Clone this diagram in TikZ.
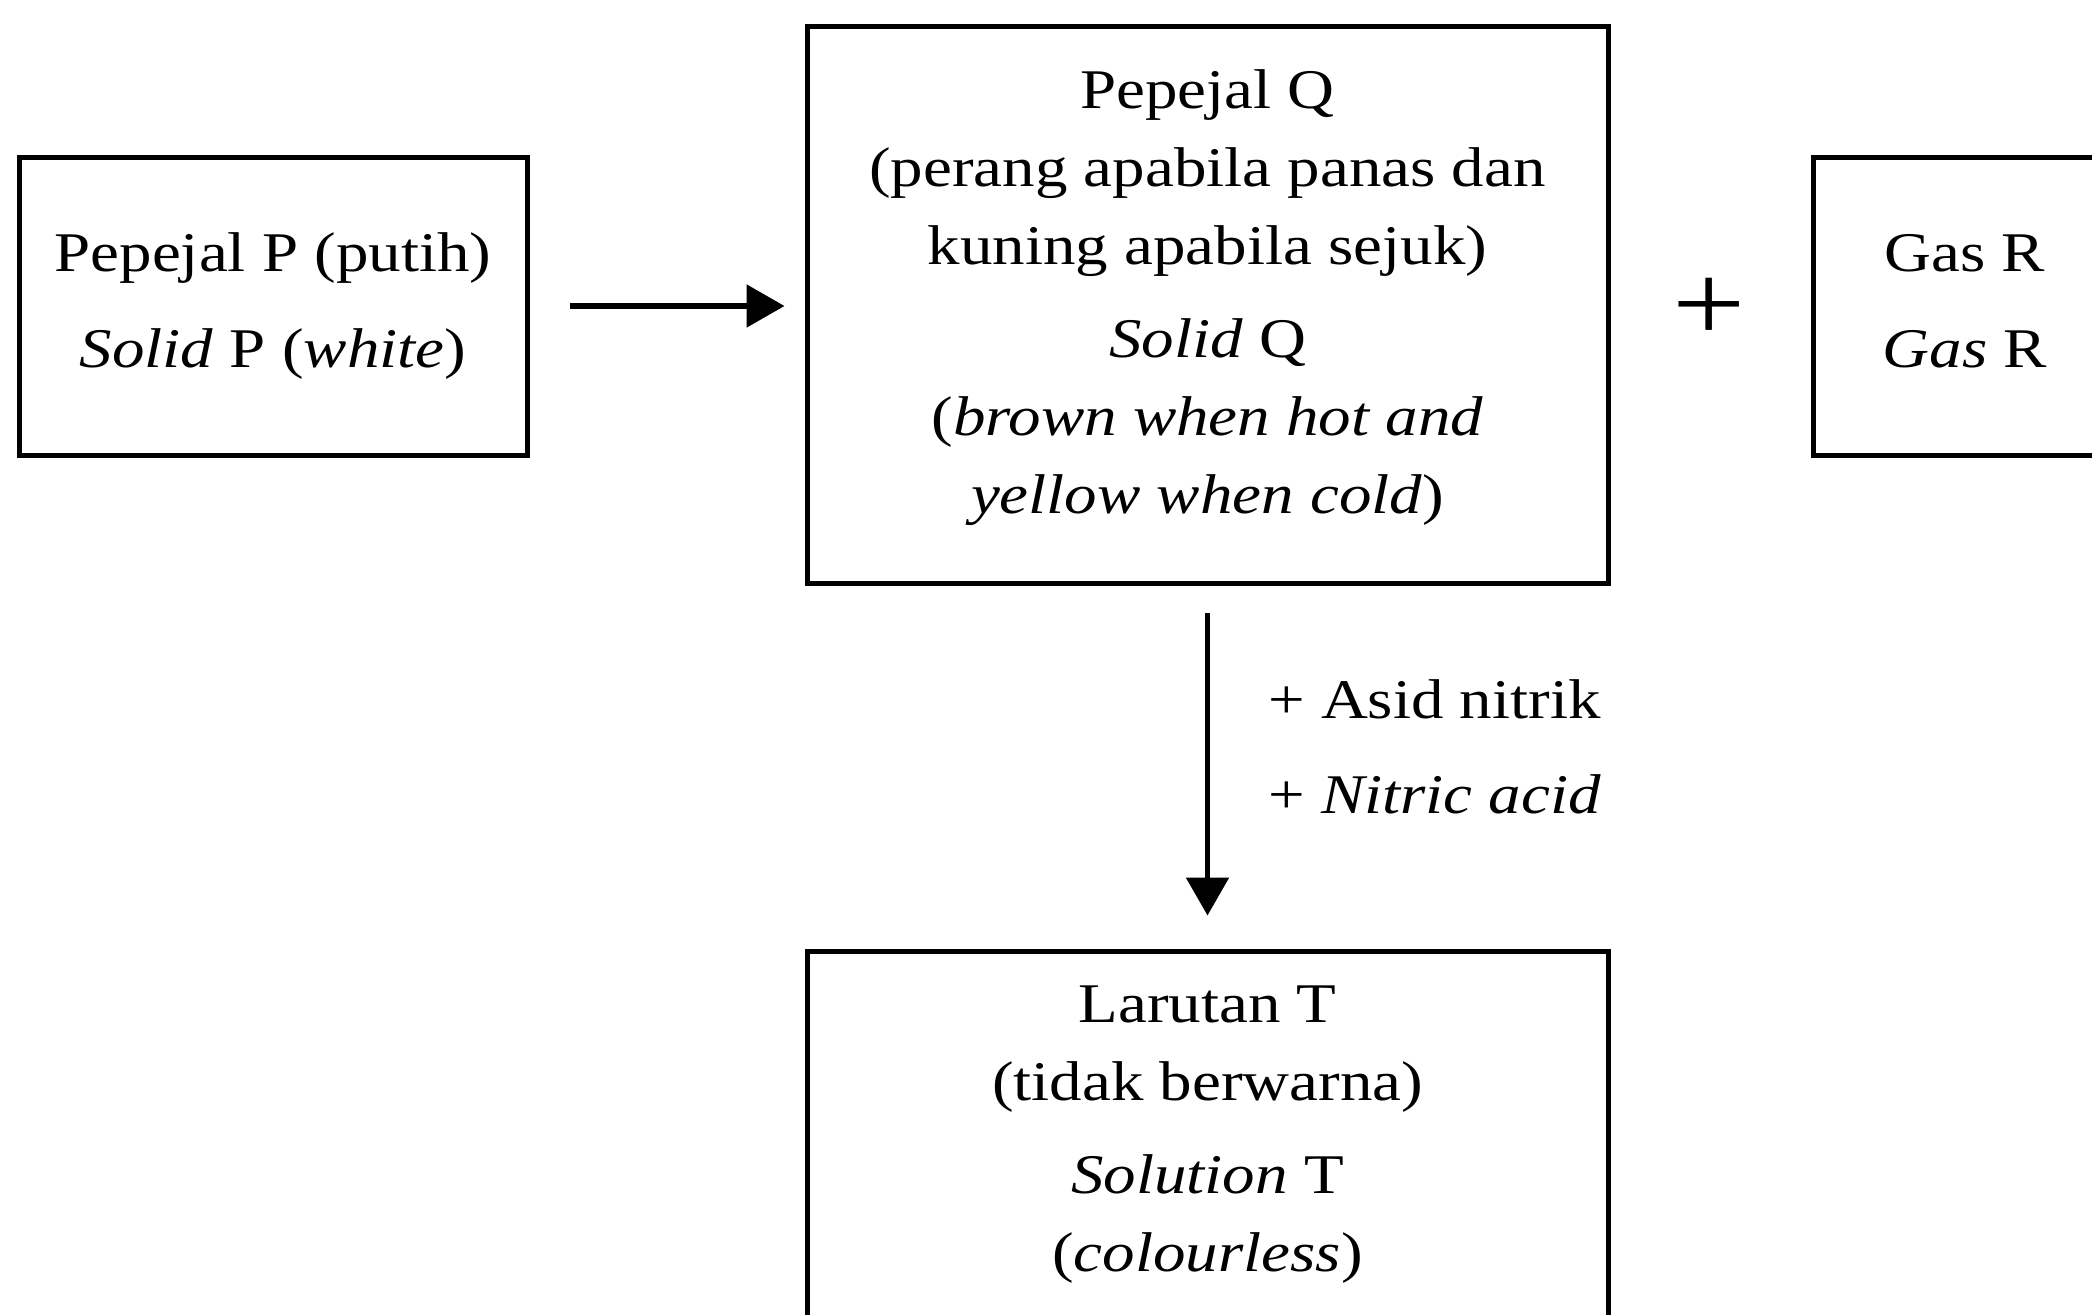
\documentclass[tikz,border=0pt]{standalone}
\usepackage{fontspec}
\setmainfont{Liberation Serif}[FakeStretch=1.16]
\usetikzlibrary{arrows.meta}
\begin{document}
\begin{tikzpicture}[x=1pt,y=-1pt,
  box/.style={draw, line width=5pt, minimum width=#1, inner sep=0pt},
  txt/.style={align=center, inner sep=0pt, font=\fontsize{56}{78}\selectfont},
  arr/.style={line width=5.5pt, -{Triangle[length=38pt,width=42pt]}}]
\useasboundingbox (0,0) rectangle (2092,1314);
\node[box=508pt, minimum height=298pt] (P) at (273,306) {};
\node[box=801pt, minimum height=556pt] (Q) at (1207.5,305) {};
\node[box=304pt, minimum height=298pt] (G) at (1965,306) {};
\node[box=801pt, minimum height=391pt] (T) at (1207.5,1146.5) {};
\node[txt] (Ptext) at (273,306) {Pepejal P (putih)\\[18pt] \textit{Solid} P (\textit{white})};
\node[txt] (Qtext) at (1207.5,298) {Pepejal Q\\ (perang apabila panas dan\\ kuning apabila sejuk)\\[15pt] \textit{Solid} Q\\ (\textit{brown when hot and}\\ \textit{yellow when cold})};
\node[txt] (Gtext) at (1965,301) {Gas R\\[18pt] \textit{Gas} R};
\node[txt] (Ttext) at (1207.5,1135) {Larutan T\\ (tidak berwarna)\\[15pt] \textit{Solution} T\\ (\textit{colourless})};
\node[inner sep=0pt, font=\fontsize{112}{112}\selectfont] (plus) at (1709,310) {+};
\node[txt, align=left, anchor=west] (lab) at (1268,747) {+ Asid nitrik\\[17pt] + \textit{Nitric acid}};
\draw[arr, shorten <=40pt, shorten >=20pt] (P.east) -- (P.east -| Q.west);
\draw[arr, shorten <=27pt, shorten >=33pt] (Q.south) -- (T.north);
\end{tikzpicture}
\end{document}
